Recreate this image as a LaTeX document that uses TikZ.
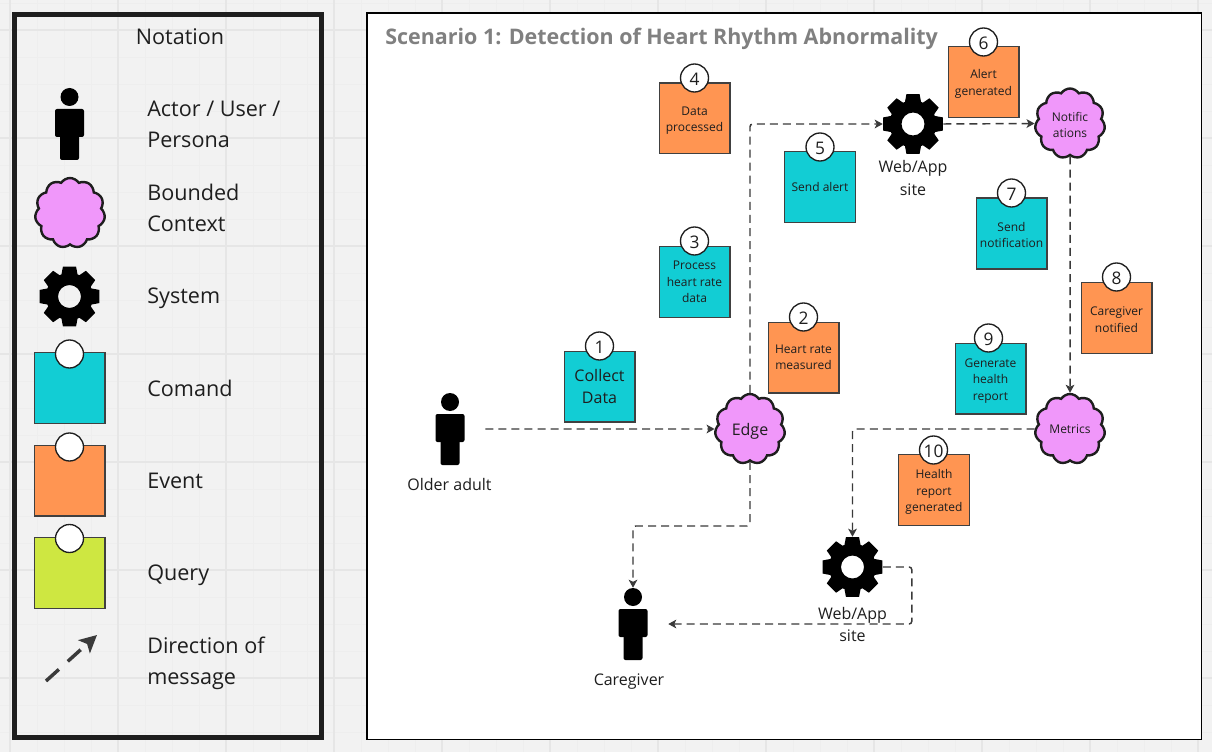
\documentclass[tikz,border=0pt]{standalone}
\usepackage{fontspec}
\setmainfont{Open Sans}
\usetikzlibrary{arrows.meta,shapes.symbols}
\definecolor{pagebg}{HTML}{F2F2F2}
\definecolor{gridmajor}{HTML}{E6E6E6}
\definecolor{gridminor}{HTML}{EEEEEE}
\definecolor{cmdcol}{HTML}{12CDD4}
\definecolor{evtcol}{HTML}{FF9552}
\definecolor{qrycol}{HTML}{CEE741}
\definecolor{ctxcol}{HTML}{F097FA}
\definecolor{inkcol}{HTML}{1E1E1E}
\definecolor{msgcol}{HTML}{3A3A3A}
\definecolor{titlecol}{HTML}{808080}
\newcommand{\notetop}[1]{\rule{0pt}{#1pt}}

\begin{document}
\begin{tikzpicture}[
  x=0.75pt, y=-0.75pt,
  note/.style={draw=inkcol!85, line width=1pt, minimum size=53pt, inner sep=0pt,
    text=inkcol, align=center, font=\fontsize{9}{12.4}\selectfont},
  cmdnote/.style={note, fill=cmdcol},
  evtnote/.style={note, fill=evtcol},
  qrynote/.style={note, fill=qrycol},
  numdot/.style={circle, draw=inkcol, fill=white, line width=1pt, minimum size=21pt,
    inner sep=0pt, text=inkcol, font=\fontsize{13}{14}\selectfont,
    execute at begin node={\rule{0pt}{11.5pt}}},
  context/.style={cloud, cloud puffs=11, cloud puff arc=115, aspect=1, draw=inkcol, fill=ctxcol,
    line width=1.8pt, minimum width=52.5pt, minimum height=52.5pt, inner sep=0pt,
    text=inkcol, align=center, font=\fontsize{9}{12.4}\selectfont},
  sysnode/.style={circle, minimum size=45pt, inner sep=0pt},
  actornode/.style={minimum width=52.5pt, minimum height=54pt, inner sep=0pt},
  lbl/.style={text=inkcol, align=center, inner sep=0pt, font=\fontsize{12}{17.2}\selectfont},
  keylbl/.style={text=inkcol, align=left, anchor=west, inner sep=0pt, font=\fontsize{16.2}{23.2}\selectfont},
  msg/.style={draw=msgcol, line width=1.1pt, dash pattern=on 6pt off 3.8pt, rounded corners=2pt,
    -{Stealth[length=6pt,width=6.5pt,inset=1.5pt]}},
  gearicon/.pic={
    \fill[black, even odd rule] (-20:23)
      foreach \a in {0,45,...,315} { -- (\a-20:23.5) -- (\a-12.5:30.5) -- (\a+12.5:30.5) -- (\a+20:23.5) }
      -- cycle (0,0) circle (11.5);
  },
  personicon/.pic={
    \fill[black] (0,-27) circle (9);
    \fill[black, rounded corners=1.5pt] (-14.5,-15) rectangle (14.5,13);
    \fill[black, rounded corners=1.5pt] (-9.5,5) rectangle (9.5,36);
  }]
  \useasboundingbox (0,0) rectangle (1212,752);
  \fill[pagebg] (0,0) rectangle (1212,752);
  % grid of the board
  \foreach \i in {0,...,44} \draw[gridminor, line width=.6pt] (10+27*\i,0) -- (10+27*\i,752);
  \foreach \i in {0,...,27} \draw[gridminor, line width=.6pt] (0,3+27*\i) -- (1212,3+27*\i);
  \foreach \i in {0,...,11} \draw[gridmajor, line width=.8pt] (10+108*\i,0) -- (10+108*\i,752);
  \foreach \i in {0,...,6} \draw[gridmajor, line width=.8pt] (0,30+108*\i) -- (1212,30+108*\i);

  % legend
  \draw[inkcol, line width=3.75pt] (14,15) rectangle (321.5,737.5);
  \node[lbl, font=\fontsize{16.2}{23.2}\selectfont] (keyTitle) at (180,37) {Notation};
  \node[actornode] (keyActor) at (69.5,124) {};
  \pic at (keyActor) {personicon};
  \node[keylbl] (keyActorLbl) at (147,124.5) {Actor / User /\\Persona};
  \node[context] (keyCtx) at (70,213) {};
  \node[keylbl] (keyCtxLbl) at (147,208) {Bounded\\Context};
  \node[sysnode] (keySys) at (69.5,296.5) {};
  \pic at (keySys) {gearicon};
  \node[keylbl] (keySysLbl) at (147,298.5) {System};
  \node[cmdnote] (keyCmd) at (69.5,388) {};
  \node[numdot] (keyCmdDot) at (69.5,354) {};
  \node[keylbl] (keyCmdLbl) at (147,388) {Comand};
  \node[evtnote] (keyEvt) at (69.5,480.5) {};
  \node[numdot] (keyEvtDot) at (69.5,447) {};
  \node[keylbl] (keyEvtLbl) at (147,481) {Event};
  \node[qrynote] (keyQry) at (69.5,573) {};
  \node[numdot] (keyQryDot) at (69.5,538.5) {};
  \node[keylbl] (keyQryLbl) at (147,575) {Query};
  \coordinate (keyFrom) at (46,681);
  \coordinate (keyTo) at (97,635);
  \draw[msgcol, line width=2.6pt, dash pattern=on 13pt off 9pt,
    -{Stealth[length=13pt,width=13pt,inset=3pt]}] (keyFrom) -- (keyTo);
  \node[keylbl] (keyMsgLbl) at (147,663) {Direction of\\message};

  % scenario panel
  \draw[black, fill=white, line width=1.1pt] (367,13) rectangle (1201.5,739.5);
  \node[anchor=west, inner sep=0pt, text=titlecol, font=\fontsize{16.1}{20}\selectfont\bfseries] (title) at (385,39)
    {Scenario 1: Detection of Heart Rhythm Abnormality};

  \node[actornode] (older) at (450,429) {};
  \node[actornode] (caregiver) at (633,624) {};
  \node[context, font=\fontsize{12}{14}\selectfont, execute at begin node={\rule{0pt}{12.5pt}}] (edge) at (750,429) {Edge};
  \node[context] (notif) at (1070,123.5) {\notetop{9}Notific\\ations};
  \node[context] (metrics) at (1070,429) {Metrics};
  \node[sysnode] (webA) at (913,124) {};
  \node[sysnode] (webB) at (852.5,567) {};
  \coordinate (bendCare) at (750,526);

  % messages
  \draw[msg] (older.east) -- (edge.west);
  \draw[msg] (edge.north) |- (webA.west);
  \draw[msg] (webA.east) -- (notif.west);
  \draw[msg] (notif.south) -- (metrics.north);
  \draw[msg] (metrics.west) -| (webB.north);
  \draw[msg] (edge.south) -- (bendCare) -| (caregiver.north);
  \draw[msg] (webB.east) -- ++(29,0) |- (caregiver.east);

  \pic at (older) {personicon};
  \pic at (caregiver) {personicon};
  \pic at (webA) {gearicon};
  \pic at (webB) {gearicon};
  \node[lbl] (olderLbl) at (449.5,484) {Older adult};
  \node[lbl] (careLbl) at (629,682) {Caregiver};
  \node[lbl] (webALbl) at (913,178) {Web/App\\site};
  \node[lbl] (webBLbl) at (852.5,624.5) {Web/App\\site};

  % commands and events
  \node[cmdnote, font=\fontsize{12}{16.5}\selectfont] (collect) at (599.5,386.5) {Collect\\Data};
  \node[numdot] (dotA) at (599.5,346) {1};
  \node[evtnote] (measured) at (803.5,357.5) {Heart rate\\measured};
  \node[numdot] (dotB) at (803.5,317) {2};
  \node[cmdnote] (process) at (694.5,282) {Process\\heart rate\\data};
  \node[numdot] (dotC) at (694.5,241) {3};
  \node[evtnote] (processed) at (694.5,118.5) {\notetop{10}Data\\processed};
  \node[numdot] (dotD) at (694.5,78) {4};
  \node[cmdnote] (sendAlert) at (820,187) {Send alert};
  \node[numdot] (dotE) at (820,147) {5};
  \node[evtnote] (alert) at (983.5,82) {\notetop{10}Alert\\generated};
  \node[numdot] (dotF) at (983.5,42) {6};
  \node[cmdnote] (sendNotif) at (1011.5,233.5) {\notetop{9}Send\\notification};
  \node[numdot] (dotG) at (1011.5,193) {7};
  \node[evtnote] (notified) at (1116.5,318) {\notetop{9}Caregiver\\notified};
  \node[numdot] (dotH) at (1116.5,277) {8};
  \node[cmdnote] (genReport) at (990.5,378.5) {\notetop{10}Generate\\health\\report};
  \node[numdot] (dotI) at (988.5,338) {9};
  \node[evtnote] (report) at (934,490) {\notetop{10}Health\\report\\generated};
  \node[numdot] (dotJ) at (933.5,450) {10};
\end{tikzpicture}
\end{document}
